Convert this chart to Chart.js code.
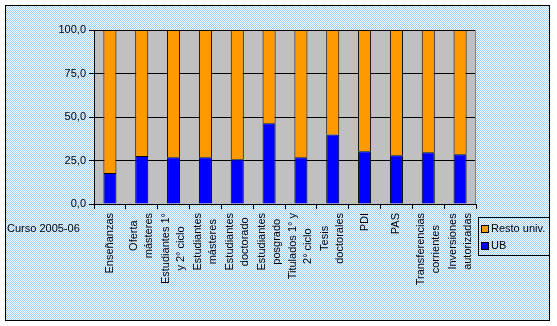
<!DOCTYPE html>
<html>
<head>
<meta charset="utf-8">
<script src="https://cdn.jsdelivr.net/npm/chart.js@4"></script>
<style>
  html, body { margin: 0; padding: 0; background: #fff; }
  canvas { display: block; }
</style>
</head>
<body>
<canvas id="ubChart" width="557" height="326"></canvas>
<script>
const categories = [
    ['Enseñanzas'],
    ['Oferta', 'másteres'],
    ['Estudiantes 1°', 'y 2° ciclo'],
    ['Estudiantes', 'másteres'],
    ['Estudiantes', 'doctorado'],
    ['Estudiantes', 'posgrado'],
    ['Titulados 1° y', '2° ciclo'],
    ['Tesis', 'doctorales'],
    ['PDI'],
    ['PAS'],
    ['Transferencias', 'corrientes'],
    ['Inversiones', 'autorizadas']
];
const ubValues    = [17.8, 27.6, 26.8, 26.8, 25.7, 46.4, 26.8, 40.0, 30.3, 28.0, 29.7, 28.6];
const restoValues = [82.2, 72.4, 73.2, 73.2, 74.3, 53.6, 73.2, 60.0, 69.7, 72.0, 70.3, 71.4];
const yTickLabels = ['0,0', '25,0', '50,0', '75,0', '100,0'];
const seriesNames = ['UB', 'Resto univ.'];
const seriesColors = ['#0000FF', '#FF9900'];
const sideNote = 'Curso 2005-06';

const FONT_FAMILY = "'Liberation Sans', Arial, sans-serif";
const FONT = "11px " + FONT_FAMILY;

// light blue dithered fill, like the old Excel chart area
function makeDither(ctx) {
    const c = document.createElement('canvas');
    c.width = 2;
    c.height = 2;
    const p = c.getContext('2d');
    p.fillStyle = '#ffffff';
    p.fillRect(0, 0, 2, 2);
    p.fillStyle = '#99CCFF';
    p.fillRect(0, 0, 1, 1);
    p.fillRect(1, 1, 1, 1);
    return ctx.createPattern(c, 'repeat');
}

const excelLook = {
    id: 'excelLook',
    beforeDraw(chart) {
        const { ctx, chartArea: a } = chart;
        ctx.save();
        ctx.fillStyle = '#ffffff';
        ctx.fillRect(0, 0, chart.width, chart.height);
        ctx.fillStyle = makeDither(ctx);
        ctx.fillRect(5, 5, 545, 316);
        ctx.strokeStyle = '#000';
        ctx.lineWidth = 1;
        ctx.strokeRect(5.5, 5.5, 544, 315);
        ctx.fillStyle = '#C0C0C0';
        ctx.fillRect(a.left, a.top, a.right - a.left, a.bottom - a.top);
        ctx.restore();
    },
    afterDraw(chart) {
        const { ctx, chartArea: a } = chart;
        const x = chart.scales.x;
        ctx.save();

        // grey plot-area edge on the right
        ctx.strokeStyle = '#808080';
        ctx.lineWidth = 1;
        ctx.beginPath();
        ctx.moveTo(a.right - 0.5, a.top);
        ctx.lineTo(a.right - 0.5, a.bottom);
        ctx.stroke();

        // category labels, rotated, lines centred on the longest one
        ctx.font = FONT;
        ctx.fillStyle = '#000';
        ctx.textAlign = 'center';
        ctx.textBaseline = 'middle';
        categories.forEach((lines, i) => {
            const px = x.getPixelForValue(i);
            const w = Math.max(...lines.map(t => ctx.measureText(t).width));
            lines.forEach((t, j) => {
                ctx.save();
                ctx.translate(px + (j - (lines.length - 1) / 2) * 15, x.top + 9 + w / 2);
                ctx.rotate(-Math.PI / 2);
                ctx.fillText(t, 0, 0);
                ctx.restore();
            });
        });

        ctx.textAlign = 'left';
        ctx.fillText(sideNote, 7, 229);

        // legend box
        ctx.strokeStyle = '#000';
        ctx.strokeRect(478.5, 217.5, 71, 38);
        const items = chart.data.datasets.slice().reverse();
        items.forEach((ds, k) => {
            const cy = 229 + k * 17;
            ctx.fillStyle = ds.backgroundColor;
            ctx.fillRect(482, cy - 3, 6, 6);
            ctx.strokeRect(481.5, cy - 3.5, 7, 7);
            ctx.fillStyle = '#000';
            ctx.fillText(ds.label, 491, cy);
        });
        ctx.restore();
    }
};

const ctx = document.getElementById('ubChart').getContext('2d');

new Chart(ctx, {
    type: 'bar',
    data: {
        labels: categories,
        datasets: [
            {
                label: seriesNames[0],
                data: ubValues,
                backgroundColor: seriesColors[0],
                borderColor: '#000',
                borderWidth: 1
            },
            {
                label: seriesNames[1],
                data: restoValues,
                backgroundColor: seriesColors[1],
                borderColor: '#000',
                borderWidth: 1
            }
        ]
    },
    options: {
        responsive: false,
        animation: false,
        devicePixelRatio: 1,
        barPercentage: 0.41,
        categoryPercentage: 1,
        layout: { padding: { left: 0, right: 81, top: 30, bottom: 0 } },
        plugins: {
            legend: { display: false },
            tooltip: { enabled: false }
        },
        scales: {
            x: {
                stacked: true,
                ticks: { display: false },
                grid: { drawOnChartArea: false, color: '#000', tickLength: 5, offset: true },
                border: { color: '#000' },
                afterFit: s => { s.height = 122; }
            },
            y: {
                stacked: true,
                min: 0,
                max: 100,
                ticks: {
                    stepSize: 25,
                    padding: 3,
                    color: '#000',
                    font: { family: FONT_FAMILY, size: 11 },
                    callback: (v, i) => yTickLabels[i]
                },
                grid: { color: '#000', tickColor: '#000', tickLength: 5 },
                border: { color: '#000' },
                afterFit: s => { s.width = 94; }
            }
        }
    },
    plugins: [excelLook]
});
</script>
</body>
</html>
